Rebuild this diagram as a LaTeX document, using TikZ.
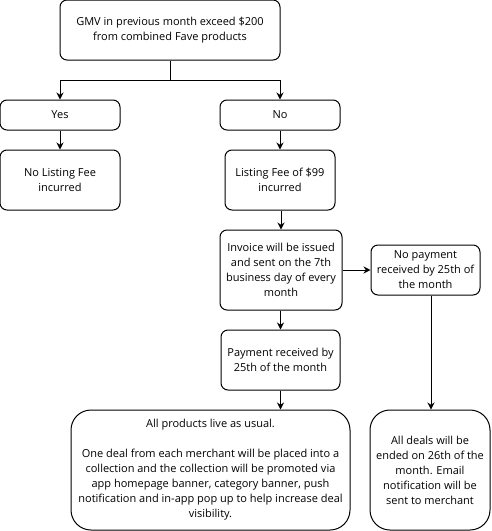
\documentclass[tikz,border=0pt]{standalone}
\usepackage{fontspec}
\setmainfont{Open Sans}
\usetikzlibrary{arrows.meta}
\begin{document}
\begin{tikzpicture}[x=1pt,y=-1pt,
  box/.style={draw=black,line width=1pt,rounded corners=7pt,align=center,font=\fontsize{11}{15}\selectfont,inner sep=0pt},
  bigbox/.style={box,rounded corners=20pt},
  arr/.style={line width=1pt,-{Stealth[length=7pt,width=7pt]}},
  ln/.style={line width=1pt}]
\useasboundingbox (0,0) rectangle (491,531);
\node[box,minimum width=220pt,minimum height=60pt] (top) at (170,30) {GMV in previous month exceed \$200\\from combined Fave products};
\node[box,minimum width=120pt,minimum height=30pt] (yes) at (60,115) {Yes};
\node[box,minimum width=120pt,minimum height=30pt] (no) at (280,115) {No};
\node[box,minimum width=120pt,minimum height=60pt] (nofee) at (60,180) {No Listing Fee\\incurred};
\node[box,minimum width=110pt,minimum height=60pt] (fee) at (280,180) {Listing Fee of \$99\\incurred};
\node[box,minimum width=122pt,minimum height=80pt] (inv) at (281,270) {Invoice will be issued\\and sent on the 7th\\business day of every\\month};
\node[box,minimum width=109pt,minimum height=50pt] (nopay) at (425.5,270) {No payment\\received by 25th of\\the month};
\node[box,minimum width=119pt,minimum height=60pt] (pay) at (280.5,360) {Payment received by\\25th of the month};
\node[bigbox,minimum width=279pt,minimum height=120pt] (live) at (210.5,470) {All products live as usual.\\[15pt]One deal from each merchant will be placed into a\\collection and the collection will be promoted via\\app homepage banner, category banner, push\\notification and in-app pop up to help increase deal\\visibility.};
\node[bigbox,minimum width=120pt,minimum height=120pt] (end) at (430,470) {All deals will be\\ended on 26th of the\\month. Email\\notification will be\\sent to merchant};
\coordinate (j) at (170,80);
\draw[ln] (top.south) -- (j);
\draw[arr] (j) -| (yes.north);
\draw[arr] (j) -| (no.north);
\draw[arr] (yes) -- (nofee);
\draw[arr] (no) -- (fee);
\draw[arr] (fee.south -| inv.north) -- (inv.north);
\draw[arr] (inv.east) -- (nopay.west |- inv.east);
\draw[arr] (inv.south -| pay.north) -- (pay.north);
\draw[arr] (pay.south) -- (live.north -| pay.south);
\draw[arr] (nopay.south -| 431,0) -- (end.north -| 431,0);
\end{tikzpicture}
\end{document}
